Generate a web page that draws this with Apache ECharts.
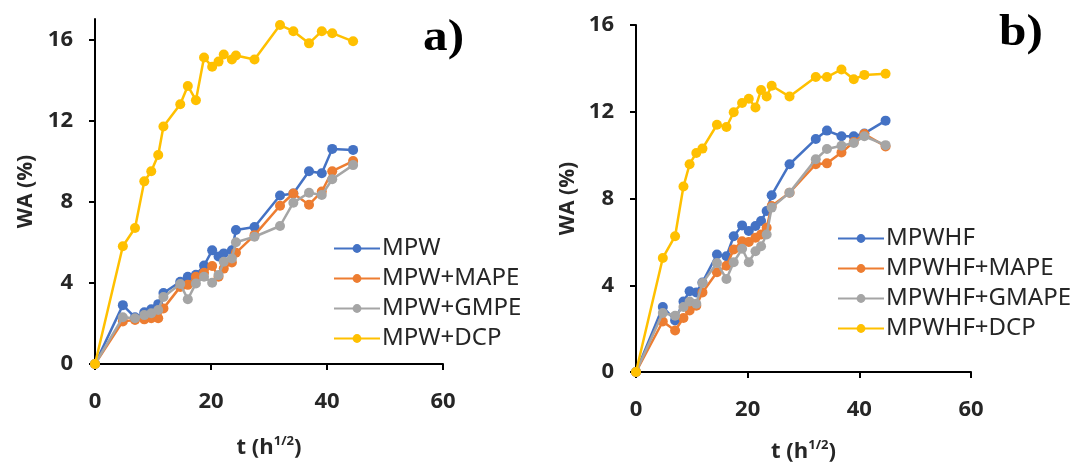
<!DOCTYPE html>
<html>
<head>
<meta charset="utf-8">
<script src="https://cdn.jsdelivr.net/npm/echarts@6/dist/echarts.min.js"></script>
<style>
  html, body { margin: 0; padding: 0; background: #fff; }
  #chart { width: 1076px; height: 463px; }
</style>
</head>
<body>
<div id="chart"></div>
<script>
// Water absorption (WA, %) against square root of time, two composite families

// Panel a) – MPW composites
const tA = [0, 4.8, 6.9, 8.5, 9.7, 10.9, 11.8, 14.7, 16.0, 17.4, 18.8, 20.2, 21.3, 22.2, 23.6, 24.3, 27.5, 31.9, 34.2, 36.9, 39.1, 40.9, 44.5];
const mpw      = [0, 2.9, 2.3, 2.55, 2.7, 2.95, 3.5, 4.05, 4.3, 4.4, 4.85, 5.6, 5.3, 5.45, 5.6, 6.6, 6.75, 8.3, 8.4, 9.5, 9.4, 10.6, 10.55];
const mpwMape  = [0, 2.1, 2.17, 2.2, 2.25, 2.25, 2.74, 3.8, 3.9, 4.3, 4.5, 4.83, 4.3, 4.7, 5.0, 5.48, 6.35, 7.8, 8.4, 7.85, 8.5, 9.5, 10.0];
const mpwGmpe  = [0, 2.3, 2.25, 2.41, 2.5, 2.66, 3.3, 3.94, 3.19, 3.97, 4.3, 4.0, 4.38, 5.04, 5.2, 6.0, 6.27, 6.8, 7.95, 8.44, 8.33, 9.1, 9.8];
const mpwDcp   = [0, 5.8, 6.7, 9.0, 9.5, 10.3, 11.7, 12.8, 13.7, 13.0, 15.1, 14.65, 14.9, 15.25, 15.0, 15.2, 15.0, 16.7, 16.4, 15.8, 16.4, 16.3, 15.9];

// Panel b) – MPWHF composites
const tB = [0, 4.8, 7.0, 8.5, 9.6, 10.8, 11.9, 14.5, 16.2, 17.5, 19.0, 20.2, 21.4, 22.4, 23.4, 24.3, 27.5, 32.2, 34.2, 36.8, 39.0, 40.9, 44.7];
const mpwhf      = [0, 3.0, 2.38, 3.25, 3.72, 3.67, 4.13, 5.42, 5.34, 6.26, 6.76, 6.5, 6.73, 6.96, 7.42, 8.15, 9.58, 10.74, 11.13, 10.87, 10.87, 11.0, 11.59];
const mpwhfMape  = [0, 2.33, 1.91, 2.49, 2.84, 3.06, 3.67, 4.6, 4.9, 5.65, 6.03, 6.0, 6.19, 6.34, 6.65, 7.65, 8.27, 9.58, 9.62, 10.12, 10.6, 10.97, 10.4];
const mpwhfGmape = [0, 2.72, 2.59, 3.0, 3.25, 3.15, 4.1, 5.03, 4.29, 5.06, 5.68, 5.06, 5.57, 5.8, 6.34, 7.58, 8.27, 9.81, 10.28, 10.43, 10.56, 10.87, 10.46];
const mpwhfDcp   = [0, 5.26, 6.26, 8.55, 9.58, 10.1, 10.3, 11.4, 11.3, 11.98, 12.4, 12.6, 12.2, 13.0, 12.7, 13.2, 12.7, 13.6, 13.6, 13.95, 13.5, 13.7, 13.75];

const namesA = ['MPW', 'MPW+MAPE', 'MPW+GMPE', 'MPW+DCP'];
const namesB = ['MPWHF', 'MPWHF+MAPE', 'MPWHF+GMAPE', 'MPWHF+DCP'];
const xTicks = [0, 20, 40, 60];
const yTicks = [0, 4, 8, 12, 16];

const colors = ['#4472C4', '#ED7D31', '#A5A5A5', '#FFC000'];
const tickFont = '"Open Sans", Lato, sans-serif';
const inkColor = '#262626';

function pairs(t, v) { return t.map((x, i) => [x, v[i]]); }

function xAxisFor(gridIndex, nameGap) {
  return {
    gridIndex, type: 'value', min: 0, max: 60, interval: 20,
    name: '{a|t (h}{s|1/2}{a|)}', nameLocation: 'middle', nameGap,
    nameTextStyle: {
      rich: {
        a: { fontFamily: tickFont, fontWeight: 'bold', fontSize: 22, color: inkColor, lineHeight: 26 },
        s: { fontFamily: tickFont, fontWeight: 'bold', fontSize: 13, color: inkColor, verticalAlign: 'top', lineHeight: 26 }
      }
    },
    splitLine: { show: false },
    axisLine: { show: true, onZero: false, lineStyle: { color: '#000', width: 2 } },
    axisTick: { show: true, length: 6, lineStyle: { color: '#000', width: 2 } },
    axisLabel: { fontFamily: tickFont, fontWeight: 'bold', fontSize: 22, color: inkColor, margin: 27, customValues: xTicks }
  };
}

function yAxisFor(gridIndex, max, nameGap) {
  return {
    gridIndex, type: 'value', min: 0, max, interval: 4,
    name: 'WA (%)', nameLocation: 'middle', nameGap, nameRotate: 90,
    nameTextStyle: { fontFamily: tickFont, fontWeight: 'bold', fontSize: 21, color: inkColor },
    splitLine: { show: false },
    axisLine: { show: true, lineStyle: { color: '#000', width: 2 } },
    axisTick: { show: true, length: 6, lineStyle: { color: '#000', width: 2 }, customValues: yTicks },
    axisLabel: { fontFamily: tickFont, fontWeight: 'bold', fontSize: 22, color: inkColor, margin: 22, customValues: yTicks }
  };
}

function lineSeries(name, t, v, i, axisIndex) {
  return {
    name, type: 'line', xAxisIndex: axisIndex, yAxisIndex: axisIndex,
    data: pairs(t, v), clip: false,
    symbol: 'circle', symbolSize: 10, showSymbol: true,
    lineStyle: { color: colors[i], width: 2.5 },
    itemStyle: { color: colors[i] },
    emphasis: { disabled: true }, z: 2 + i
  };
}

function legendFor(names, left, top) {
  return {
    data: names, orient: 'vertical', left, top,
    itemWidth: 46, itemHeight: 11, itemGap: 5,
    textStyle: { fontFamily: '"Noto Sans", "Liberation Sans", sans-serif', fontSize: 24, color: inkColor, lineHeight: 25, padding: [0, 0, 0, -3] },
    selectedMode: false
  };
}

const chart = echarts.init(document.getElementById('chart'), null, { renderer: 'canvas' });

chart.setOption({
  backgroundColor: '#fff',
  animation: false,
  color: colors,
  grid: [
    { left: 95, top: 19, width: 348, height: 345, outerBoundsMode: 'none', containLabel: false },
    { left: 636, top: 25, width: 335, height: 347, outerBoundsMode: 'none', containLabel: false }
  ],
  xAxis: [xAxisFor(0, 71), xAxisFor(1, 67)],
  yAxis: [yAxisFor(0, 17, 58), yAxisFor(1, 16, 57)],
  legend: [legendFor(namesA, 328, 231), legendFor(namesB, 832, 221)],
  series: [
    lineSeries(namesA[0], tA, mpw, 0, 0),
    lineSeries(namesA[1], tA, mpwMape, 1, 0),
    lineSeries(namesA[2], tA, mpwGmpe, 2, 0),
    lineSeries(namesA[3], tA, mpwDcp, 3, 0),
    lineSeries(namesB[0], tB, mpwhf, 0, 1),
    lineSeries(namesB[1], tB, mpwhfMape, 1, 1),
    lineSeries(namesB[2], tB, mpwhfGmape, 2, 1),
    lineSeries(namesB[3], tB, mpwhfDcp, 3, 1)
  ],
  graphic: [
    { type: 'text', left: 423, top: 17, scaleX: 1.12, style: { text: 'a)', font: 'bold 44px "Liberation Serif", "DejaVu Serif", serif', fill: '#000' } },
    { type: 'text', left: 999, top: 12, scaleX: 1.12, style: { text: 'b)', font: 'bold 44px "Liberation Serif", "DejaVu Serif", serif', fill: '#000' } }
  ]
});
</script>
</body>
</html>
